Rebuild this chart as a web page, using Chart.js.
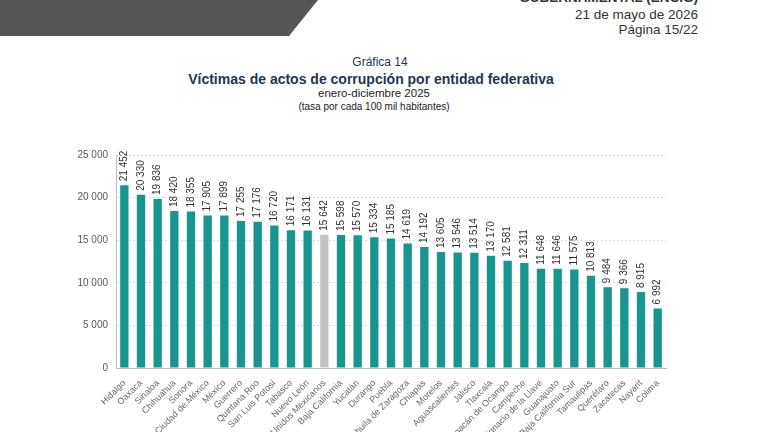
<!DOCTYPE html>
<html>
<head>
<meta charset="utf-8">
<script src="https://cdn.jsdelivr.net/npm/chart.js@4/dist/chart.umd.min.js"></script>
<style>
  html, body { margin: 0; padding: 0; background: #fff; overflow: hidden; }
  body { width: 768px; height: 432px; position: relative; font-family: "Liberation Sans", Arial, sans-serif; }
  #banner { position: absolute; left: 0; top: 0; width: 320px; height: 36px; background: #565656;
            clip-path: polygon(0 0, 318px 0, 289px 36px, 0 36px); }
  .hdr { position: absolute; right: 70px; text-align: right; color: #333; font-size: 13.5px; white-space: nowrap; }
  .t { position: absolute; left: 0; width: 742px; text-align: center; white-space: nowrap; }
  #chartBox { position: absolute; left: 70px; top: 130px; }
</style>
</head>
<body>
<div id="banner"></div>
<div class="hdr" style="top:-10px;font-weight:bold;">GUBERNAMENTAL (ENCIG)</div>
<div class="hdr" style="top:7px;">21 de mayo de 2026</div>
<div class="hdr" style="top:22px;">Página 15/22</div>

<div class="t" style="top:55px;font-size:12px;color:#1f3550;width:760px;">Gráfica 14</div>
<div class="t" style="top:71px;font-size:14px;font-weight:bold;color:#1f3550;">Víctimas de actos de corrupción por entidad federativa</div>
<div class="t" style="top:87px;font-size:11.5px;color:#222;width:748px;">enero-diciembre 2025</div>
<div class="t" style="top:101px;font-size:10px;color:#222;width:748px;">(tasa por cada 100 mil habitantes)</div>

<div id="chartBox"><canvas id="graph" width="610" height="340"></canvas></div>

<script>
const entidades = ['Hidalgo', 'Oaxaca', 'Sinaloa', 'Chihuahua', 'Sonora', 'Ciudad de México', 'México',
  'Guerrero', 'Quintana Roo', 'San Luis Potosí', 'Tabasco', 'Nuevo León', 'Estados Unidos Mexicanos',
  'Baja California', 'Yucatán', 'Durango', 'Puebla', 'Coahuila de Zaragoza', 'Chiapas', 'Morelos',
  'Aguascalientes', 'Jalisco', 'Tlaxcala', 'Michoacán de Ocampo', 'Campeche',
  'Veracruz de Ignacio de la Llave', 'Guanajuato', 'Baja California Sur', 'Tamaulipas', 'Querétaro',
  'Zacatecas', 'Nayarit', 'Colima'];

const tasas = [21452, 20330, 19836, 18420, 18355, 17905, 17899, 17255, 17176, 16720, 16171, 16131, 15642,
  15598, 15570, 15334, 15185, 14619, 14192, 13605, 13546, 13514, 13170, 12581, 12311, 11648, 11646,
  11575, 10813, 9484, 9366, 8915, 6992];

const yTicks = [0, 5000, 10000, 15000, 20000, 25000];

const nacional = 'Estados Unidos Mexicanos';

function fmt(v) {
  return String(v).replace(/\B(?=(\d{3})+(?!\d))/g, ' ');
}

const barColors = entidades.map(e => e === nacional ? '#c3c3c3' : '#17968f');

// etiquetas de valor verticales encima de cada barra
const valueLabels = {
  id: 'valueLabels',
  afterDatasetsDraw(chart) {
    const ctx = chart.ctx;
    const meta = chart.getDatasetMeta(0);
    ctx.save();
    ctx.font = '10px "Liberation Sans", Arial, sans-serif';
    ctx.fillStyle = '#333';
    ctx.textAlign = 'left';
    ctx.textBaseline = 'middle';
    meta.data.forEach((bar, i) => {
      ctx.save();
      ctx.translate(bar.x, bar.y - 4);
      ctx.rotate(-Math.PI / 2);
      ctx.fillText(fmt(tasas[i]), 0, 0);
      ctx.restore();
    });
    ctx.restore();
  }
};

const graph = document.getElementById('graph');

new Chart(graph, {
  type: 'bar',
  data: {
    labels: entidades,
    datasets: [{
      data: tasas,
      backgroundColor: barColors,
      categoryPercentage: 0.5,
      barPercentage: 1.0
    }]
  },
  options: {
    responsive: false,
    animation: false,
    layout: { padding: { top: 25, right: 14, left: 0, bottom: 0 } },
    plugins: { legend: { display: false }, tooltip: { enabled: false } },
    scales: {
      x: {
        grid: { display: false },
        border: { color: '#bfbfbf' },
        ticks: {
          autoSkip: false, maxRotation: 45, minRotation: 45, padding: 2,
          color: '#666', font: { size: 9, family: '"Liberation Sans", Arial, sans-serif' }
        },
        afterFit(scale) { scale.height = 102; }
      },
      y: {
        min: 0, max: 25000,
        afterBuildTicks(scale) { scale.ticks = yTicks.map(v => ({ value: v })); },
        grid: { color: '#d9d9d9', drawTicks: false },
        border: { color: '#bfbfbf', dash: [2, 2] },
        ticks: {
          padding: 8, color: '#595959',
          font: { size: 10, family: '"Liberation Sans", Arial, sans-serif' },
          callback: v => fmt(v)
        },
        afterFit(scale) { scale.width = 46; }
      }
    }
  },
  plugins: [valueLabels]
});
</script>
</body>
</html>
